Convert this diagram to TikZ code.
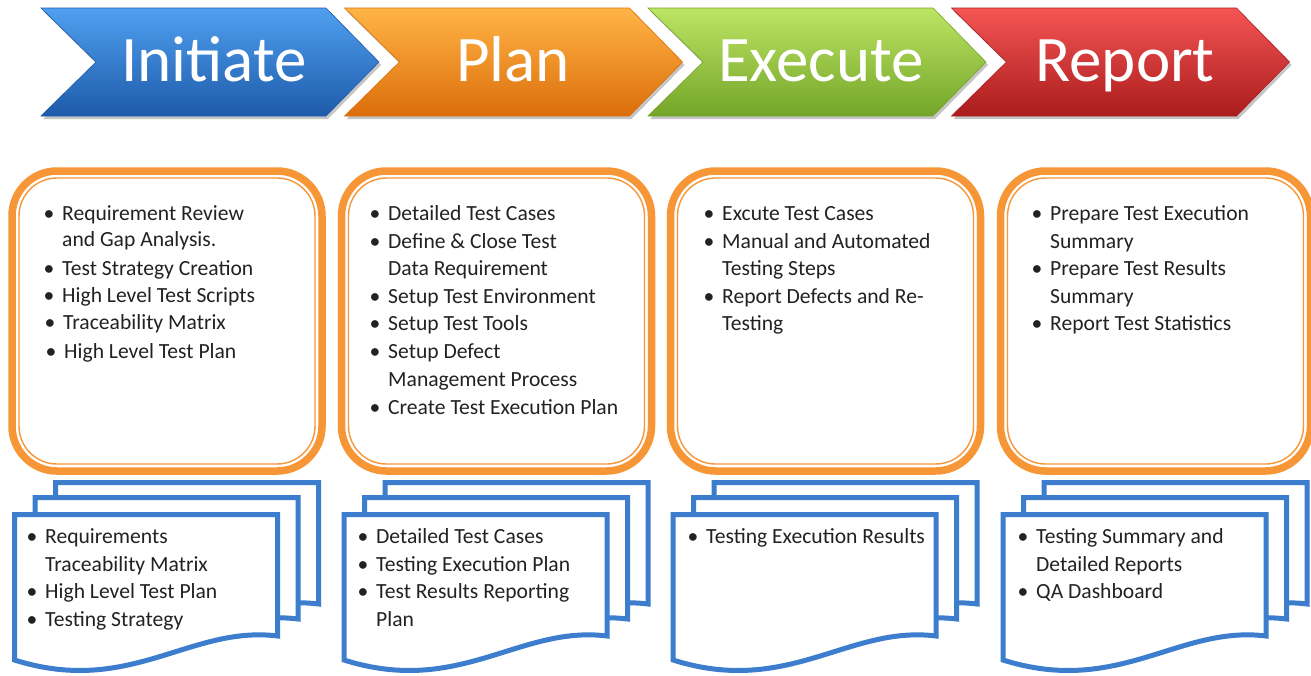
\documentclass[tikz,border=0pt]{standalone}
\usepackage{fontspec}
\setmainfont{Carlito}
\definecolor{orng}{RGB}{247,150,55}
\definecolor{docblue}{RGB}{60,125,205}
\definecolor{txtcol}{RGB}{34,34,34}
\definecolor{bluT}{RGB}{80,160,240}
\definecolor{bluM}{RGB}{46,127,216}
\definecolor{bluB}{RGB}{30,90,170}
\definecolor{orT}{RGB}{255,180,70}
\definecolor{orM}{RGB}{255,140,26}
\definecolor{orB}{RGB}{220,110,10}
\definecolor{grT}{RGB}{190,228,100}
\definecolor{grM}{RGB}{155,203,59}
\definecolor{grB}{RGB}{115,165,40}
\definecolor{rdT}{RGB}{245,85,85}
\definecolor{rdM}{RGB}{224,48,47}
\definecolor{rdB}{RGB}{170,28,28}
\newcommand\chev[4]{%
  \fill[black!45,opacity=0.5] (#1+2,11) -- (#1+287,11) -- (#1+340,65) -- (#1+287,119) -- (#1+2,119) -- (#1+57,65) -- cycle;
  \shade[top color=#2,middle color=#3,bottom color=#4,draw=#4,line width=0.6pt]
    (#1,8) -- (#1+285,8) -- (#1+338,62) -- (#1+285,116) -- (#1,116) -- (#1+55,62) -- cycle;}
\newcommand\docshp[2]{%
  \draw[docbox] (#1,#2) -- (#1+263,#2) -- (#1+263,#2+121.5)
    .. controls (#1+175.5,#2+110.5) and (#1+115.5,#2+182) .. (#1,#2+145.5) -- cycle;}
\newcommand\stackat[1]{%
  \docshp{#1+55.5}{482.5}\docshp{#1+35}{497.5}\docshp{#1+14.5}{514.5}}
\newcommand\oboxat[1]{%
  \draw[obox] (#1+12,171) rectangle (#1+322,471);
  \draw[ibox] (#1+19,178) rectangle (#1+315,464);}
\newcommand\bitm[4]{\node[bodytxt] (#1b) at (#2-18.5,#3) {\textbullet};\node[bodytxt] (#1) at (#2,#3) {#4};}
\newcommand\citm[4]{\node[bodytxt] (#1) at (#2,#3) {#4};}
\begin{document}
\begin{tikzpicture}[x=1pt,y=-1pt,
  hdr/.style={font=\fontsize{65}{65}\selectfont,text=white,anchor=base,inner sep=0pt},
  bodytxt/.style={font=\fontsize{21.6}{25}\selectfont,text=txtcol,anchor=base west,inner sep=0pt},
  obox/.style={draw=orng,line width=7.5pt,rounded corners=45pt,fill=white},
  ibox/.style={draw=orng,line width=1.4pt,rounded corners=38pt},
  docbox/.style={draw=docblue,line width=5pt,fill=white,line join=miter}]
\useasboundingbox (0,0) rectangle (1311,675);
\clip (0,0) rectangle (1311,675);
\fill[white] (0,0) rectangle (1311,675);
% chevrons
\chev{41}{bluT}{bluM}{bluB}
\chev{344.5}{orT}{orM}{orB}
\chev{648}{grT}{grM}{grB}
\chev{951.5}{rdT}{rdM}{rdB}
\node[hdr] (hI) at (214,81) {Initiate};
\node[hdr] (hP) at (513,81) {Plan};
\node[hdr] (hE) at (821,81) {Execute};
\node[hdr] (hR) at (1125,81) {Report};
% activity boxes
\oboxat{0}
\oboxat{329.5}
\oboxat{658.5}
\oboxat{988.5}
% document stacks
\stackat{0}
\stackat{329.5}
\stackat{658.5}
\stackat{988.5}
% Initiate texts
\bitm{i1}{62}{220}{Requirement Review}
\citm{i2}{62}{246}{and Gap Analysis.}
\bitm{i3}{62}{275}{Test Strategy Creation}
\bitm{i4}{62}{302}{High Level Test Scripts}
\bitm{i5}{63}{329}{Traceability Matrix}
\bitm{i6}{64}{358}{High Level Test Plan}
% Plan texts
\bitm{p1}{388}{220}{Detailed Test Cases}
\bitm{p2}{388}{248}{Define \& Close Test}
\citm{p3}{388}{275}{Data Requirement}
\bitm{p4}{388}{303}{Setup Test Environment}
\bitm{p5}{388}{330}{Setup Test Tools}
\bitm{p6}{388}{358}{Setup Defect}
\citm{p7}{388}{386}{Management Process}
\bitm{p8}{388}{414}{Create Test Execution Plan}
% Execute texts
\bitm{e1}{722}{220}{Excute Test Cases}
\bitm{e2}{722}{248}{Manual and Automated}
\citm{e3}{722}{275}{Testing Steps}
\bitm{e4}{722}{303}{Report Defects and Re-}
\citm{e5}{722}{330}{Testing}
% Report texts
\bitm{r1}{1050}{220}{Prepare Test Execution}
\citm{r2}{1050}{248}{Summary}
\bitm{r3}{1050}{275}{Prepare Test Results}
\citm{r4}{1050}{303}{Summary}
\bitm{r5}{1050}{330}{Report Test Statistics}
% document texts
\bitm{di1}{45}{543}{Requirements}
\citm{di2}{45}{571}{Traceability Matrix}
\bitm{di3}{45}{598}{High Level Test Plan}
\bitm{di4}{45}{626}{Testing Strategy}
\bitm{dp1}{376}{543}{Detailed Test Cases}
\bitm{dp2}{376}{571}{Testing Execution Plan}
\bitm{dp3}{376}{598}{Test Results Reporting}
\citm{dp4}{376}{626}{Plan}
\bitm{de1}{706}{543}{Testing Execution Results}
\bitm{dr1}{1036}{543}{Testing Summary and}
\citm{dr2}{1036}{571}{Detailed Reports}
\bitm{dr3}{1036}{598}{QA Dashboard}
\end{tikzpicture}
\end{document}
